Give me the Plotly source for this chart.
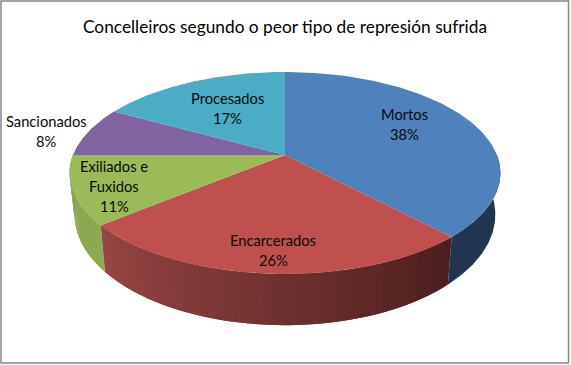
import numpy as np
import plotly.graph_objects as go

TITLE = "Concelleiros segundo o peor tipo de represión sufrida"
categories = ["Mortos", "Encarcerados", "Exiliados e<br>Fuxidos", "Sancionados", "Procesados"]
values = [38, 26, 11, 8, 17]
colors = ["#4F81BD", "#C0504D", "#9BBB59", "#8064A2", "#4BACC6"]
side_left = [(31, 53, 80), (152, 70, 68), (134, 162, 78), (90, 70, 115), (50, 120, 140)]
side_right = [(31, 53, 80), (74, 30, 29), (142, 170, 82), (90, 70, 115), (50, 120, 140)]
label_x = [404, 273, 114, 46, 227]
label_y = [114, 240, 166, 121, 98]
LINE_STEP = 20.2
LABEL_FONT = "Lato, Carlito, Calibri, sans-serif"

# projected disc: centre, radii and perspective of the top and bottom faces
TOP = dict(cx=285, cy=155, a=212, b=97.8, k=0.178)
BOT = dict(cx=285, cy=195, a=207, b=107, k=0.178)


def project(theta, f):
    """Clockwise angle from 12 o'clock (radians) to chart coordinates."""
    X, Y = np.sin(theta), np.cos(theta)
    w = 1 + f["k"] * Y
    return f["cx"] + f["a"] * X / w, f["cy"] - f["b"] * Y / w


def poly(x, y, color):
    return go.Scatter(
        x=x, y=y, mode="lines", fill="toself", fillcolor=color,
        line=dict(color=color, width=0),
        hoverinfo="skip", showlegend=False,
    )


fig = go.Figure()
total = sum(values)
edges = np.radians(np.cumsum([0] + values) / total * 360)

# walls of the front half of the disc; each gradient strip overlaps the next to avoid seams
for i in range(len(values)):
    t0, t1 = max(edges[i], np.pi / 2), min(edges[i + 1], 3 * np.pi / 2)
    if t1 <= t0:
        continue
    n = 60 if side_left[i] != side_right[i] else 1
    for j in range(n):
        a0 = t0 + (t1 - t0) * j / n
        a1 = t0 + (t1 - t0) * min(j + 2, n) / n
        th = np.linspace(a0, a1, 5 if n > 1 else 80)
        xt, yt = project(th, TOP)
        xb, yb = project(th, BOT)
        u = (j + 0.5) / n
        # angle grows clockwise, so the strip walks from right to left
        c = [round(r + (l - r) * u) for l, r in zip(side_left[i], side_right[i])]
        fig.add_trace(poly(np.r_[xt, xb[::-1], xt[0]], np.r_[yt, yb[::-1], yt[0]],
                           f"rgb({c[0]},{c[1]},{c[2]})"))

# top face
for i in range(len(values)):
    th = np.linspace(edges[i], edges[i + 1], 120)
    x, y = project(th, TOP)
    fig.add_trace(poly(np.r_[TOP["cx"], x, TOP["cx"]], np.r_[TOP["cy"], y, TOP["cy"]], colors[i]))

for name, v, lx, ly in zip(categories, values, label_x, label_y):
    for k, line in enumerate(name.split("<br>") + [f"{v}%"]):
        fig.add_annotation(x=lx, y=ly + k * LINE_STEP, text=line, showarrow=False,
                           font=dict(family=LABEL_FONT, size=14.7, color="#0a0a0a"))

fig.add_annotation(x=284.5, y=26, text=TITLE, showarrow=False,
                   font=dict(family=LABEL_FONT, size=17.3, color="#000000"))

fig.add_shape(type="rect", x0=1, y0=1, x1=568.5, y1=363,
              line=dict(color="#868686", width=1.5), fillcolor="rgba(0,0,0,0)")

fig.update_layout(
    width=571, height=365, margin=dict(l=0, r=0, t=0, b=0),
    paper_bgcolor="white", plot_bgcolor="white", showlegend=False,
    xaxis=dict(range=[0, 571], visible=False, fixedrange=True),
    yaxis=dict(range=[365, 0], visible=False, fixedrange=True),
)
fig.write_html("out.html", config={"displayModeBar": False},
               post_script="document.body.style.margin='0';document.body.style.overflow='hidden';window.dispatchEvent(new Event('resize'));")
